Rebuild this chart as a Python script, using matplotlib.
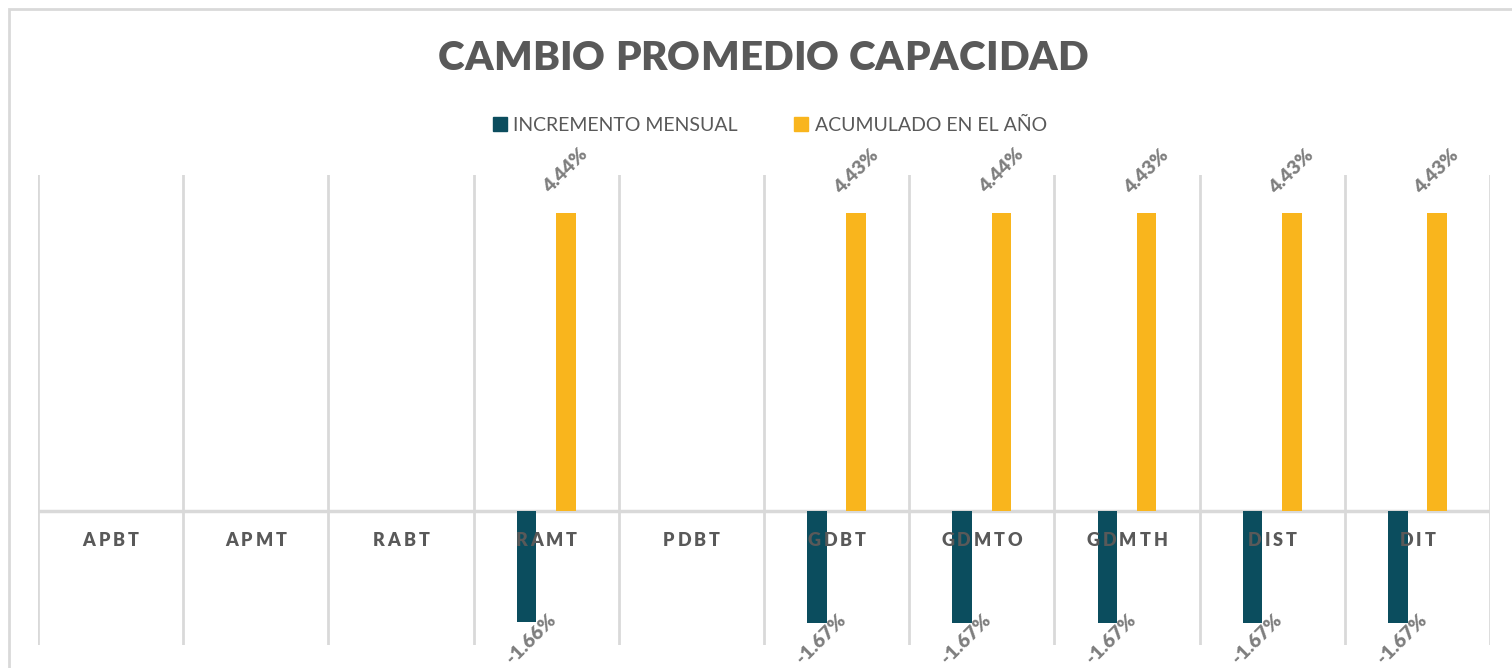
import numpy as np
import matplotlib.pyplot as plt
from matplotlib.patches import Patch, Rectangle
from matplotlib.font_manager import FontProperties
from matplotlib.textpath import text_to_path

categories = ['APBT', 'APMT', 'RABT', 'RAMT', 'PDBT', 'GDBT', 'GDMTO', 'GDMTH', 'DIST', 'DIT']
mensual = [np.nan, np.nan, np.nan, -1.66, np.nan, -1.67, -1.67, -1.67, -1.67, -1.67]
acumulado = [np.nan, np.nan, np.nan, 4.44, np.nan, 4.43, 4.44, 4.43, 4.43, 4.43]
series_names = ['INCREMENTO MENSUAL', 'ACUMULADO EN EL AÑO']

c_teal = '#0b4d5e'
c_orange = '#f9b51d'
c_text = '#595959'
c_grid = '#d9d9d9'
FONT = ['Lato', 'DejaVu Sans']

W, H = 1512, 668
fig = plt.figure(figsize=(W / 100, H / 100), dpi=100)


def spaced_text(x, y, s, size, weight, xycoords, gap=None, target_px=None, color=c_text):
    # draw letters one by one with extra letter spacing
    prop = FontProperties(family=FONT, size=size, weight=weight)
    widths = [text_to_path.get_text_width_height_descent(ch, prop, ismath=False)[0] for ch in s]
    if target_px is not None:
        gap = (target_px * 0.72 - sum(widths)) / (len(s) - 1)
    total = sum(widths) + gap * (len(s) - 1)
    pos = -total / 2
    for ch, w in zip(s, widths):
        fig.axes[0].annotate(ch, xy=(x, y), xycoords=xycoords, xytext=(pos, 0),
                             textcoords='offset points', ha='left', va='center',
                             fontproperties=prop, color=color, zorder=5,
                             annotation_clip=False)
        pos += w + gap


# frame of the chart area
fig.patches.append(Rectangle((9 / W, -0.1), 1.2, 1.1 - 9 / H, transform=fig.transFigure,
                             fill=False, edgecolor=c_grid, linewidth=2))

ax = fig.add_axes([38 / W, 23 / H, (1490 - 38) / W, (645 - 175) / H])
x = np.arange(len(categories))
w = 0.135
off = 0.135
ax.bar(x - off, mensual, w, color=c_teal, zorder=3)
ax.bar(x + off, acumulado, w, color=c_orange, zorder=3)

ax.set_xlim(-0.5, len(categories) - 0.5)
ax.set_ylim(-2, 5)
for s in ax.spines.values():
    s.set_visible(False)
ax.set_xticks([])
ax.set_yticks([])
for b in np.arange(-0.5, len(categories), 1):
    ax.axvline(b, color=c_grid, lw=2, zorder=1)
ax.axhline(0, color=c_grid, lw=2.5, zorder=2)

# data labels
for i in range(len(categories)):
    if not np.isnan(acumulado[i]):
        ax.annotate(f'{acumulado[i]:.2f}%', xy=(x[i] + off, acumulado[i]), xytext=(0, 30),
                    textcoords='offset points', ha='center', va='center', rotation=45,
                    fontsize=14, fontweight='heavy', color='#7f7f7f', family=FONT)
    if not np.isnan(mensual[i]):
        ax.annotate(f'{mensual[i]:.2f}%', xy=(x[i] - off, mensual[i]), xytext=(3, -12),
                    textcoords='offset points', ha='center', va='center', rotation=45,
                    fontsize=14, fontweight='heavy', color='#7f7f7f', family=FONT,
                    annotation_clip=False)

# category labels
for i, c in enumerate(categories):
    spaced_text(x[i], -0.45, c, 13, 'heavy', 'data', gap=2.1)

# title
spaced_text(763 / W, 1 - 58 / H, 'CAMBIO PROMEDIO CAPACIDAD', 29, 'heavy', 'figure fraction',
            target_px=650)

handles = [Patch(color=c_teal), Patch(color=c_orange)]
fig.legend(handles, series_names, loc='center', bbox_to_anchor=(770 / W, 1 - 125 / H), ncol=2,
           frameon=False, handlelength=0.7, handleheight=0.7, handletextpad=0.35,
           columnspacing=2.9, prop=FontProperties(family=FONT, size=14), labelcolor=c_text)

fig.savefig('out.png', dpi=100, facecolor='white')
